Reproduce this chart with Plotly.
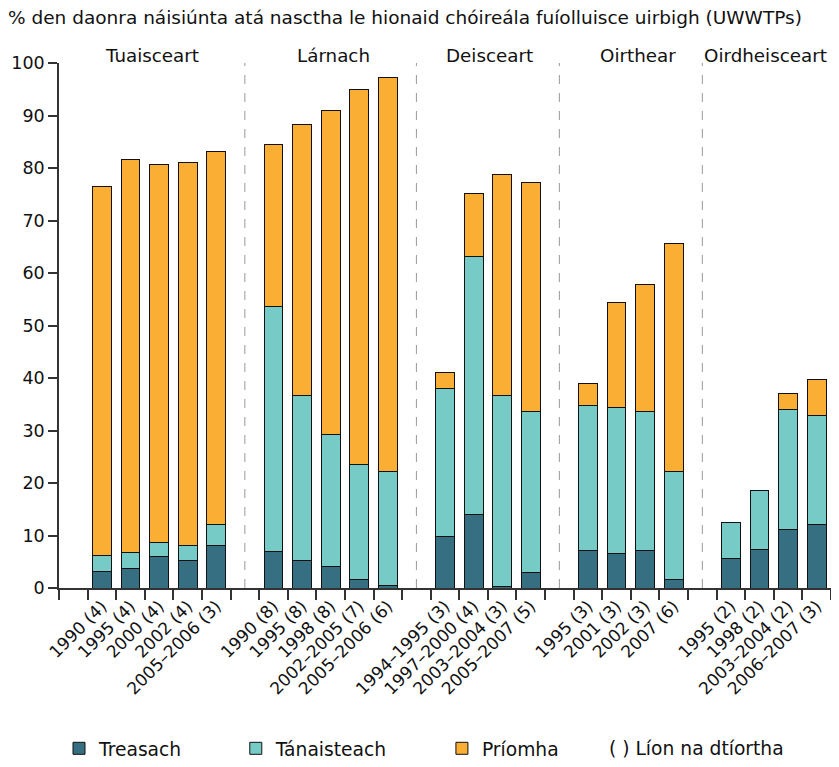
import plotly.graph_objects as go

# slots on the category axis; blank entries are the gaps between regions
slots = [
    " ",
    "1990 (4)", "1995 (4)", "2000 (4)", "2002 (4)", "2005–2006 (3)",
    "  ",
    "1990 (8)", "1995 (8)", "1998 (8)", "2002–2005 (7)", "2005–2006 (6)",
    "   ",
    "1994–1995 (3)", "1997–2000 (4)", "2003–2004 (3)", "2005–2007 (5)",
    "    ",
    "1995 (3)", "2001 (3)", "2002 (3)", "2007 (6)",
    "     ",
    "1995 (2)", "1998 (2)", "2003–2004 (2)", "2006–2007 (3)",
]

bar_labels = [s for s in slots if s.strip()]

treasach = [3.2, 3.8, 6.0, 5.3, 8.1,
            6.9, 5.3, 4.1, 1.7, 0.4,
            9.9, 14.0, 0.3, 2.9,
            7.2, 6.6, 7.2, 1.7,
            5.7, 7.4, 11.2, 12.1]
tanaisteach = [3.0, 3.0, 2.7, 2.8, 4.0,
               46.8, 31.4, 25.2, 21.8, 21.8,
               28.1, 49.2, 36.3, 30.8,
               27.6, 27.7, 26.5, 20.5,
               6.7, 11.1, 22.8, 20.7]
priomha = [70.2, 74.8, 72.0, 72.9, 71.1,
           30.7, 51.5, 61.6, 71.4, 75.1,
           3.1, 12.0, 42.1, 43.6,
           4.1, 20.0, 24.2, 43.5,
           0.0, 0.0, 3.0, 7.0]

regions = ["Tuaisceart", "Lárnach", "Deisceart", "Oirthear", "Oirdheisceart"]
region_centers = [2.75, 9.1, 14.55, 19.75, 24.2]
dividers = [6, 12, 17, 22]

FONT = "DejaVu Sans"
INK = "#111111"
COLORS = {"Treasach": "#366e82", "Tánaisteach": "#76cbc7", "Príomha": "#fbae34"}

fig = go.Figure()
for name, vals, leg in [("Treasach", treasach, "legend"),
                        ("Tánaisteach", tanaisteach, "legend2"),
                        ("Príomha", priomha, "legend3")]:
    fig.add_trace(go.Bar(
        x=bar_labels, y=vals, name=name,
        marker=dict(color=COLORS[name], line=dict(color=INK, width=1)),
        legend=leg, showlegend=True,
    ))

for d in dividers:
    fig.add_shape(type="line", xref="x", yref="y", x0=d, x1=d, y0=0, y1=100,
                  line=dict(color="#999999", width=1, dash="dash"), layer="below")

for r, c in zip(regions, region_centers):
    fig.add_annotation(x=c, y=1.0, xref="x", yref="paper", text=r, showarrow=False,
                       yanchor="bottom", yshift=-5, font=dict(size=18.3, family=FONT, color=INK))

LEG_Y = -0.306
fig.add_annotation(x=0.71, y=LEG_Y, xref="paper", yref="paper", text="( ) Líon na dtíortha",
                   showarrow=False, xanchor="left", yanchor="middle",
                   font=dict(size=18.7, family=FONT, color=INK))

leg_common = dict(orientation="h", yanchor="middle", y=LEG_Y, xanchor="left",
                  font=dict(size=18.7, family=FONT, color=INK), bgcolor="rgba(0,0,0,0)")

# the page body adds an 8px margin all round, so the figure fits inside it
fig.update_layout(
    width=823, height=751,
    barmode="stack", bargap=0.34,
    plot_bgcolor="white", paper_bgcolor="white",
    margin=dict(l=51, r=0, t=55, b=171, autoexpand=False),
    font=dict(family=FONT, size=17, color=INK),
    showlegend=True,
    title=dict(text="% den daonra náisiúnta atá nasctha le hionaid chóireála fuíolluisce uirbigh (UWWTPs)",
               x=0, xanchor="left", xref="container", y=0.987, yanchor="middle", yref="container",
               pad=dict(l=0, t=0), font=dict(size=18.5, family=FONT, color=INK)),
    legend=dict(x=0.0, **leg_common),
    legend2=dict(x=0.229, **leg_common),
    legend3=dict(x=0.496, **leg_common),
)

fig.update_xaxes(type="category", categoryorder="array", categoryarray=slots,
                 range=[-0.5, len(slots) - 0.5], tickson="boundaries", automargin=False,
                 ticks="outside", ticklen=10, tickcolor="#333", tickwidth=1.5,
                 showline=True, linecolor="#333", linewidth=1.5, tickangle=-45,
                 showgrid=False, tickfont=dict(size=17, family=FONT, color=INK))
fig.update_yaxes(range=[0, 100], tickvals=list(range(0, 101, 10)), ticks="outside",
                 ticklen=9, tickcolor="#333", tickwidth=1.5, showline=True, automargin=False,
                 linecolor="#333", linewidth=1.5, showgrid=False, zeroline=False,
                 tickfont=dict(size=17.5, family=FONT, color=INK))

fig.write_html("out.html")
